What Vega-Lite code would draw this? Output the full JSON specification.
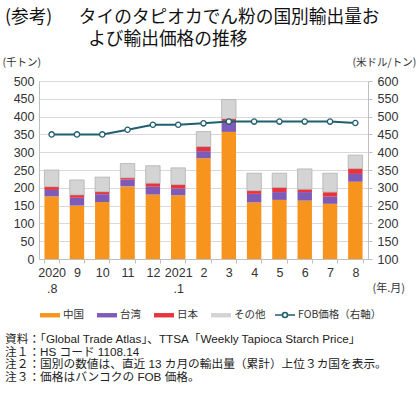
{
  "$schema": "https://vega.github.io/schema/vega-lite/v6.json",
  "padding": {"top": 9, "left": 2, "right": 2, "bottom": 2},
  "background": "white",
  "config": {"font": "Liberation Sans, Noto Sans CJK JP", "view": {"stroke": null}, "concat": {"spacing": 0}},
  "datasets": {
    "bars": [
      {"month": "2020|.8", "country": "中国", "value": 176, "rank": 1},
      {"month": "2020|.8", "country": "台湾", "value": 18, "rank": 2},
      {"month": "2020|.8", "country": "日本", "value": 9, "rank": 3},
      {"month": "2020|.8", "country": "その他", "value": 47, "rank": 4},
      {"month": "9", "country": "中国", "value": 150, "rank": 1},
      {"month": "9", "country": "台湾", "value": 22, "rank": 2},
      {"month": "9", "country": "日本", "value": 8, "rank": 3},
      {"month": "9", "country": "その他", "value": 42, "rank": 4},
      {"month": "10", "country": "中国", "value": 160, "rank": 1},
      {"month": "10", "country": "台湾", "value": 22, "rank": 2},
      {"month": "10", "country": "日本", "value": 7, "rank": 3},
      {"month": "10", "country": "その他", "value": 41, "rank": 4},
      {"month": "11", "country": "中国", "value": 204, "rank": 1},
      {"month": "11", "country": "台湾", "value": 19, "rank": 2},
      {"month": "11", "country": "日本", "value": 5, "rank": 3},
      {"month": "11", "country": "その他", "value": 40, "rank": 4},
      {"month": "12", "country": "中国", "value": 181, "rank": 1},
      {"month": "12", "country": "台湾", "value": 22, "rank": 2},
      {"month": "12", "country": "日本", "value": 10, "rank": 3},
      {"month": "12", "country": "その他", "value": 49, "rank": 4},
      {"month": "2021|.1", "country": "中国", "value": 179, "rank": 1},
      {"month": "2021|.1", "country": "台湾", "value": 19, "rank": 2},
      {"month": "2021|.1", "country": "日本", "value": 11, "rank": 3},
      {"month": "2021|.1", "country": "その他", "value": 47, "rank": 4},
      {"month": "2", "country": "中国", "value": 283, "rank": 1},
      {"month": "2", "country": "台湾", "value": 20, "rank": 2},
      {"month": "2", "country": "日本", "value": 13, "rank": 3},
      {"month": "2", "country": "その他", "value": 42, "rank": 4},
      {"month": "3", "country": "中国", "value": 357, "rank": 1},
      {"month": "3", "country": "台湾", "value": 28, "rank": 2},
      {"month": "3", "country": "日本", "value": 9, "rank": 3},
      {"month": "3", "country": "その他", "value": 54, "rank": 4},
      {"month": "4", "country": "中国", "value": 159, "rank": 1},
      {"month": "4", "country": "台湾", "value": 24, "rank": 2},
      {"month": "4", "country": "日本", "value": 9, "rank": 3},
      {"month": "4", "country": "その他", "value": 49, "rank": 4},
      {"month": "5", "country": "中国", "value": 166, "rank": 1},
      {"month": "5", "country": "台湾", "value": 22, "rank": 2},
      {"month": "5", "country": "日本", "value": 13, "rank": 3},
      {"month": "5", "country": "その他", "value": 40, "rank": 4},
      {"month": "6", "country": "中国", "value": 164, "rank": 1},
      {"month": "6", "country": "台湾", "value": 24, "rank": 2},
      {"month": "6", "country": "日本", "value": 8, "rank": 3},
      {"month": "6", "country": "その他", "value": 57, "rank": 4},
      {"month": "7", "country": "中国", "value": 155, "rank": 1},
      {"month": "7", "country": "台湾", "value": 20, "rank": 2},
      {"month": "7", "country": "日本", "value": 13, "rank": 3},
      {"month": "7", "country": "その他", "value": 53, "rank": 4},
      {"month": "8", "country": "中国", "value": 217, "rank": 1},
      {"month": "8", "country": "台湾", "value": 22, "rank": 2},
      {"month": "8", "country": "日本", "value": 15, "rank": 3},
      {"month": "8", "country": "その他", "value": 38, "rank": 4}
    ],
    "price": [
      {"month": "2020|.8", "price": 450},
      {"month": "9", "price": 450},
      {"month": "10", "price": 450},
      {"month": "11", "price": 463},
      {"month": "12", "price": 477},
      {"month": "2021|.1", "price": 477},
      {"month": "2", "price": 481},
      {"month": "3", "price": 486},
      {"month": "4", "price": 486},
      {"month": "5", "price": 486},
      {"month": "6", "price": 486},
      {"month": "7", "price": 486},
      {"month": "8", "price": 482}
    ]
  },
  "title": {
    "text": [
      "資料：「Global Trade Atlas」、TTSA「Weekly Tapioca Starch Price」",
      "注１：HS コード 1108.14",
      "注２：国別の数値は、直近 13 カ月の輸出量（累計）上位３カ国を表示。",
      "注３：価格はバンコクの FOB 価格。"
    ],
    "orient": "bottom", "anchor": "start", "fontSize": 11.7, "fontWeight": "normal",
    "lineHeight": 12.7, "offset": 13, "color": "#222", "font": "Liberation Sans, Noto Sans CJK JP", "dx": 3
  },
  "vconcat": [
    {
      "width": 329,
      "height": 178,
      "title": {
        "text": ["(参考)　\u2002タイのタピオカでん粉の国別輸出量お", "\u200b　　　　\u2002\u2009よび輸出価格の推移"],
        "anchor": "start", "fontSize": 17.7, "lineHeight": 22, "fontWeight": "normal",
        "offset": 8, "color": "#111", "font": "Noto Sans CJK JP", "dx": 3
      },
      "layer": [
        {
          "data": {"name": "bars"},
          "mark": {"type": "bar", "strokeWidth": 0.8},
          "encoding": {
            "x": {
              "field": "month", "type": "nominal",
              "sort": ["2020|.8", "9", "10", "11", "12", "2021|.1", "2", "3", "4", "5", "6", "7", "8"],
              "scale": {"paddingInner": 0.43, "paddingOuter": 0.215},
              "axis": {
                "title": "(年.月)", "labelAngle": 0, "labelExpr": "split(datum.label, '|')",
                "labelFontSize": 12.5, "labelLineHeight": 16.5, "labelColor": "#333",
                "tickBand": "extent", "tickSize": 4, "tickColor": "#bfbfbf", "domainColor": "#bfbfbf",
                "labelPadding": 3, "titleX": 333, "titleY": 29, "titleAlign": "left",
                "titleBaseline": "middle", "titleFontSize": 11, "titleFont": "Noto Sans CJK JP",
                "titleFontWeight": "normal", "titleColor": "#333"
              }
            },
            "y": {
              "field": "value", "type": "quantitative", "stack": "zero",
              "scale": {"domain": [0, 500]},
              "axis": {
                "values": [0, 50, 100, 150, 200, 250, 300, 350, 400, 450, 500],
                "grid": true, "gridColor": "#d9d9d9", "domain": true, "domainColor": "#bfbfbf",
                "ticks": false, "labelPadding": 5, "labelFontSize": 12.5, "labelColor": "#333",
                "title": "(千トン)", "titleAngle": 0, "titleAlign": "left", "titleBaseline": "middle",
                "titleX": -37, "titleY": -19, "titleFontSize": 10.5, "titleFont": "Noto Sans CJK JP",
                "titleFontWeight": "normal", "titleColor": "#333"
              }
            },
            "color": {
              "field": "country", "type": "nominal",
              "scale": {
                "domain": ["中国", "台湾", "日本", "その他"],
                "range": ["#f7941d", "#7f5bb8", "#e8343c", "#d4d4d4"]
              },
              "legend": {
                "title": null, "orient": "bottom", "direction": "horizontal", "offset": 9,
                "symbolSize": 400, "labelFontSize": 10.5, "labelFont": "Noto Sans CJK JP",
                "labelColor": "#333", "labelOffset": 2,
                "columnPadding": 10, "symbolType": "M-1,-0.22H1V0.22H-1Z"
              }
            },
            "order": {"field": "rank", "type": "quantitative"},
            "stroke": {"condition": {"test": "datum.country === 'その他'", "value": "#b3b3b3"}, "value": "transparent"}
          }
        },
        {
          "data": {"name": "price"},
          "mark": {
            "type": "line", "strokeWidth": 2,
            "point": {"filled": false, "fill": "white", "size": 28, "strokeWidth": 1.3}
          },
          "encoding": {
            "x": {
              "field": "month", "type": "nominal",
              "sort": ["2020|.8", "9", "10", "11", "12", "2021|.1", "2", "3", "4", "5", "6", "7", "8"]
            },
            "y": {
              "field": "price", "type": "quantitative",
              "scale": {"domain": [100, 600]},
              "axis": {
                "orient": "right",
                "values": [100, 150, 200, 250, 300, 350, 400, 450, 500, 550, 600],
                "grid": false, "domainColor": "#bfbfbf", "tickSize": 4, "tickColor": "#bfbfbf",
                "labelPadding": 5, "labelFontSize": 12.5, "labelColor": "#333",
                "title": "(米ドル/トン)", "titleAngle": 0, "titleAlign": "left", "titleBaseline": "middle",
                "titleX": -16, "titleY": -19, "titleFontSize": 10.5, "titleFont": "Noto Sans CJK JP",
                "titleFontWeight": "normal", "titleColor": "#333"
              }
            },
            "color": {
              "datum": "FOB価格（右軸）",
              "scale": {"range": ["#1f5f6f"]},
              "legend": {
                "title": null, "orient": "bottom", "direction": "horizontal", "offset": 9,
                "symbolSize": 400, "symbolStrokeWidth": 1.6, "symbolFillColor": "white",
                "symbolType": "M-1,0H-0.25M0.25,0H1M0.25,0A0.25,0.25,0,1,1,-0.25,0A0.25,0.25,0,1,1,0.25,0",
                "labelFontSize": 10.5, "labelFont": "Noto Sans CJK JP", "labelColor": "#333", "labelOffset": 2
              }
            }
          }
        }
      ],
      "resolve": {"scale": {"y": "independent", "color": "independent"}}
    }
  ]
}
